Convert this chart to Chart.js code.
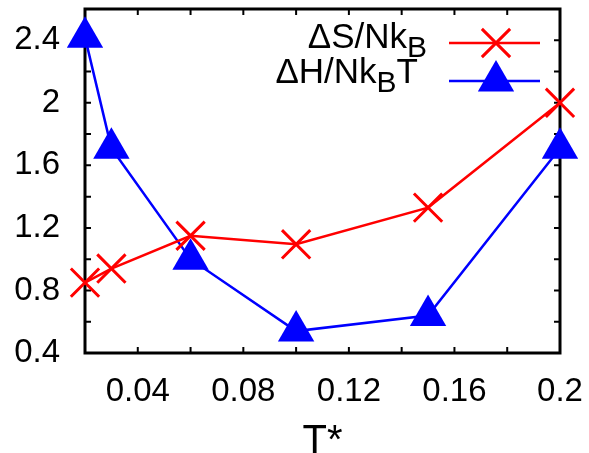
<!DOCTYPE html>
<html>
<head>
<meta charset="utf-8">
<script src="https://cdn.jsdelivr.net/npm/chart.js@4/dist/chart.umd.min.js"></script>
<style>
html,body{margin:0;padding:0;background:#fff;}
#wrap{width:589px;height:453px;position:relative;}
</style>
</head>
<body>
<div id="wrap"><canvas id="c" width="589" height="453"></canvas></div>
<script>
const temps = [0.02, 0.03, 0.06, 0.10, 0.15, 0.20];
const entropy = [0.85, 0.94, 1.15, 1.095, 1.33, 2.0];
const enthalpy = [2.42, 1.71, 1.0, 0.54, 0.64, 1.71];
const xTickValues = [0.04, 0.08, 0.12, 0.16, 0.2];
const xTickLabels = ['0.04', '0.08', '0.12', '0.16', '0.2'];
const yTickValues = [0.4, 0.8, 1.2, 1.6, 2.0, 2.4];
const yTickLabels = ['0.4', '0.8', '1.2', '1.6', '2', '2.4'];
const legendMain = [['ΔS/Nk', 'B', ''], ['ΔH/Nk', 'B', 'T']];
const xAxisTitle = 'T*';

const FONT = "'Liberation Sans', Arial, sans-serif";

function pts(ys){ return temps.map((t,i)=>({x:t, y:ys[i]})); }

const framePlugin = {
  id: 'frame',
  beforeDatasetsDraw(chart){
    const {ctx, chartArea:a, scales:{x, y}} = chart;
    ctx.save();
    ctx.strokeStyle = '#000';
    ctx.lineWidth = 3;
    ctx.lineCap = 'square';
    ctx.strokeRect(a.left, a.top, a.right - a.left, a.bottom - a.top);
    ctx.lineWidth = 2;
    ctx.lineCap = 'butt';
    const L = 6;
    x.ticks.forEach(t => {
      const px = x.getPixelForValue(t.value);
      if (px <= a.left + 2 || px >= a.right - 2) return;
      ctx.beginPath();
      ctx.moveTo(px, a.bottom); ctx.lineTo(px, a.bottom - L);
      ctx.moveTo(px, a.top); ctx.lineTo(px, a.top + L);
      ctx.stroke();
    });
    y.ticks.forEach(t => {
      const py = y.getPixelForValue(t.value);
      if (py <= a.top + 2 || py >= a.bottom - 2) return;
      ctx.beginPath();
      ctx.moveTo(a.left, py); ctx.lineTo(a.left + L, py);
      ctx.moveTo(a.right, py); ctx.lineTo(a.right - L, py);
      ctx.stroke();
    });
    ctx.restore();
  },
  afterDatasetsDraw(chart){
    const ctx = chart.ctx;
    const rows = [
      {ds: chart.data.datasets[0], textRight: 427, baseline: 48, lineY: 43},
      {ds: chart.data.datasets[1], textRight: 418, baseline: 83, lineY: 81}
    ];
    ctx.save();
    rows.forEach((r, i) => {
      const [main, sub, after] = legendMain[i];
      const mainFont = '35px ' + FONT, subFont = '30px ' + FONT;
      ctx.font = mainFont; const wMain = ctx.measureText(main).width;
      const wAfter = ctx.measureText(after).width;
      ctx.font = subFont; const wSub = ctx.measureText(sub).width;
      let xs = r.textRight - (wMain + wSub + wAfter);
      ctx.fillStyle = '#000';
      ctx.textBaseline = 'alphabetic';
      ctx.textAlign = 'left';
      ctx.font = mainFont; ctx.fillText(main, xs, r.baseline);
      ctx.font = subFont; ctx.fillText(sub, xs + wMain, r.baseline + 9);
      ctx.font = mainFont; ctx.fillText(after, xs + wMain + wSub, r.baseline);
      ctx.strokeStyle = r.ds.borderColor;
      ctx.lineWidth = 2.5;
      ctx.beginPath(); ctx.moveTo(449, r.lineY); ctx.lineTo(540, r.lineY); ctx.stroke();
      ctx.fillStyle = r.ds.pointBackgroundColor;
      ctx.strokeStyle = r.ds.pointBorderColor;
      ctx.lineWidth = r.ds.pointBorderWidth;
      Chart.helpers.drawPoint(ctx, {pointStyle: r.ds.pointStyle, radius: r.ds.pointRadius, rotation: 0, borderWidth: r.ds.pointBorderWidth}, 496, r.lineY);
    });
    ctx.restore();
  }
};

function tickLabel(values, labels){
  return function(value){
    const idx = values.findIndex(v => Math.abs(v - value) < 1e-6);
    return idx >= 0 ? labels[idx] : '';
  };
}

new Chart(document.getElementById('c'), {
  type: 'line',
  data: {
    datasets: [
      {
        label: 'ΔS/NkB', data: pts(entropy),
        borderColor: '#ff0000', borderWidth: 2.5,
        pointStyle: 'crossRot', pointRadius: 20, pointBorderWidth: 3,
        pointBorderColor: '#ff0000', pointBackgroundColor: '#ff0000',
        clip: false, tension: 0
      },
      {
        label: 'ΔH/NkBT', data: pts(enthalpy),
        borderColor: '#0000ff', borderWidth: 2.5,
        pointStyle: 'triangle', pointRadius: 21, pointBorderWidth: 0,
        pointBorderColor: '#0000ff', pointBackgroundColor: '#0000ff',
        clip: false, tension: 0
      }
    ]
  },
  options: {
    responsive: false, animation: false,
    devicePixelRatio: 1,
    layout: {autoPadding: false, padding: {left: 0, right: 29, top: 9, bottom: 0}},
    plugins: {legend: {display: false}, tooltip: {enabled: false}},
    scales: {
      x: {
        type: 'linear', min: 0.02, max: 0.2,
        grid: {display: false, drawTicks: false},
        border: {display: false},
        ticks: {stepSize: 0.02, autoSkip: false, maxRotation: 0, padding: 19,
          color: '#000', font: {family: FONT, size: 33},
          callback: tickLabel(xTickValues, xTickLabels)},
        title: {display: true, text: xAxisTitle, color: '#000',
          font: {family: FONT, size: 40, lineHeight: 1}, padding: {top: 0, bottom: -9}},
        afterFit(s){ s.height = 100; s.paddingLeft = 0; s.paddingRight = 0; }
      },
      y: {
        type: 'linear', min: 0.4, max: 2.6,
        grid: {display: false, drawTicks: false},
        border: {display: false},
        ticks: {stepSize: 0.2, autoSkip: false, padding: 25,
          color: '#000', font: {family: FONT, size: 33},
          callback: tickLabel(yTickValues, yTickLabels)},
        afterFit(s){ s.width = 85; s.paddingTop = 0; s.paddingBottom = 0; }
      }
    }
  },
  plugins: [framePlugin]
});
</script>
</body>
</html>
